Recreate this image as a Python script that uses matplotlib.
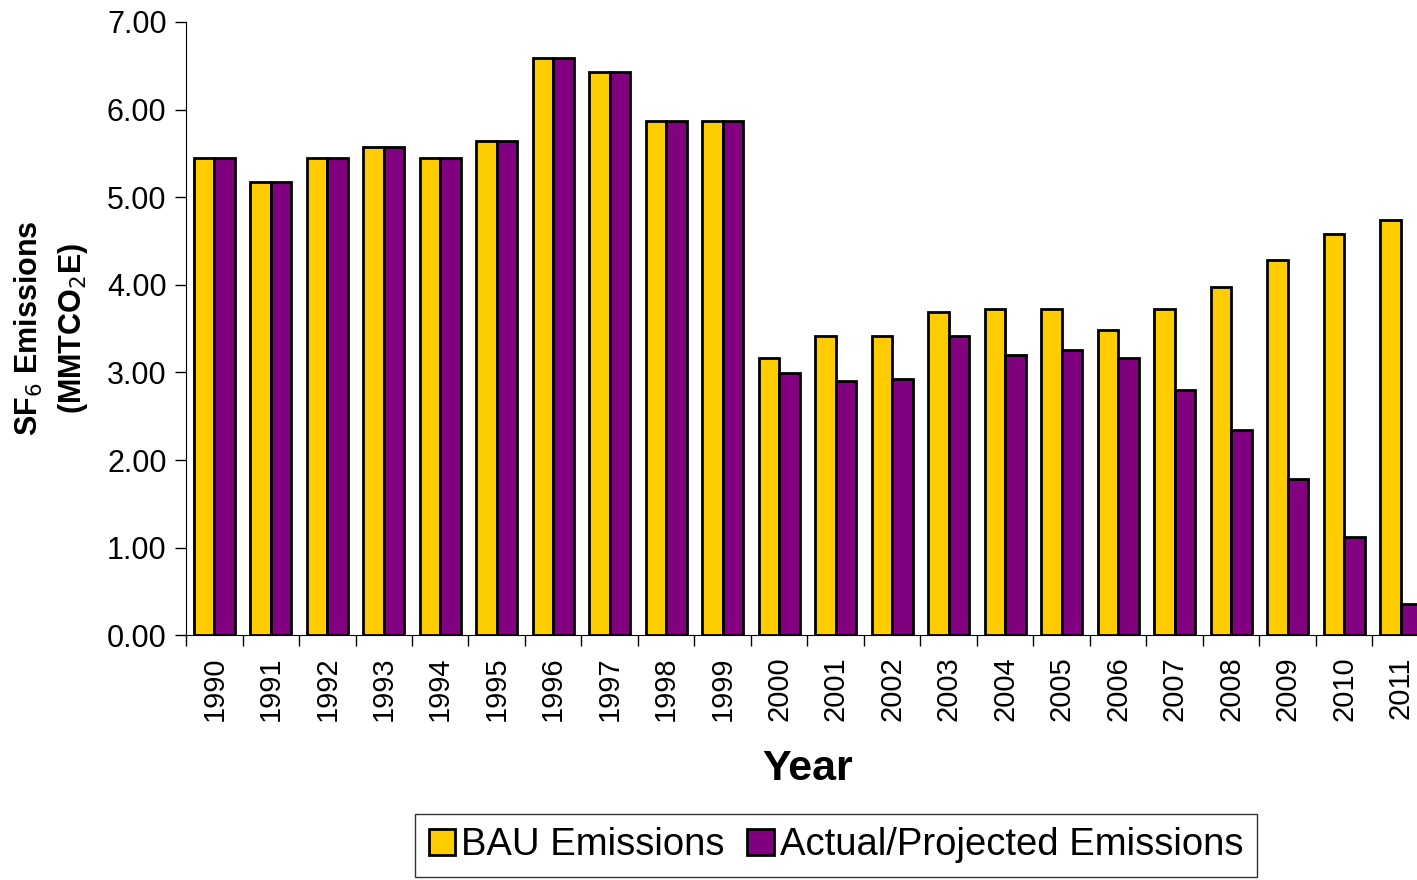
import numpy as np
import matplotlib.pyplot as plt
from matplotlib.ticker import FixedLocator

plt.rcParams['font.family'] = ['Liberation Sans', 'DejaVu Sans']

years = [str(y) for y in range(1990, 2012)]
bau = [5.45, 5.17, 5.45, 5.57, 5.45, 5.64, 6.59, 6.43, 5.87, 5.87,
       3.16, 3.42, 3.42, 3.69, 3.72, 3.72, 3.49, 3.72, 3.98, 4.28, 4.58, 4.74]
actual = [5.45, 5.17, 5.45, 5.57, 5.45, 5.64, 6.59, 6.43, 5.87, 5.87,
          2.99, 2.90, 2.93, 3.42, 3.20, 3.26, 3.16, 2.80, 2.34, 1.78, 1.12, 0.36]

fig = plt.figure(figsize=(14.17, 8.8), dpi=100)
ax = fig.add_axes([0.1313, 0.278, 0.877, 0.697])

x = np.arange(len(years))
w = 0.363
ax.bar(x - w / 2, bau, w, color='#FFCC00', edgecolor='black', linewidth=2, label='BAU Emissions')
ax.bar(x + w / 2, actual, w, color='#800080', edgecolor='black', linewidth=2, label='Actual/Projected Emissions')

ax.set_xlim(-0.5, len(years) - 0.5)
ax.set_ylim(0, 7)
ax.set_yticks(np.arange(0, 7.01, 1))
ax.set_yticklabels(['%.2f' % v for v in np.arange(0, 7.01, 1)], fontsize=22)
ax.set_xticks(x)
ax.set_xticklabels(years, rotation=90, fontsize=21)
ax.tick_params(axis='x', which='major', length=0, pad=15)
ax.xaxis.set_minor_locator(FixedLocator(np.arange(-0.5, len(years), 1)))
ax.tick_params(axis='x', which='minor', length=8, width=1, direction='out')
ax.tick_params(axis='y', length=8, width=1, direction='out', pad=6)

ax.spines['top'].set_visible(False)
ax.spines['right'].set_visible(False)

ax.set_ylabel('SF$_6$ Emissions\n(MMTCO$_2$E)', fontsize=22, fontweight='bold', labelpad=12, linespacing=1.45)
ax.set_xlabel('Year', fontsize=31, fontweight='bold', labelpad=20)

leg = fig.legend(loc='upper center', bbox_to_anchor=(0.59, 0.075), ncol=2, fontsize=27.5,
                 frameon=True, fancybox=False, edgecolor='black', handlelength=0.7,
                 handleheight=0.7, handletextpad=0.15, columnspacing=0.6, borderpad=0.35,
                 borderaxespad=0)
leg.get_frame().set_linewidth(1)

fig.savefig('out.png', dpi=100)
